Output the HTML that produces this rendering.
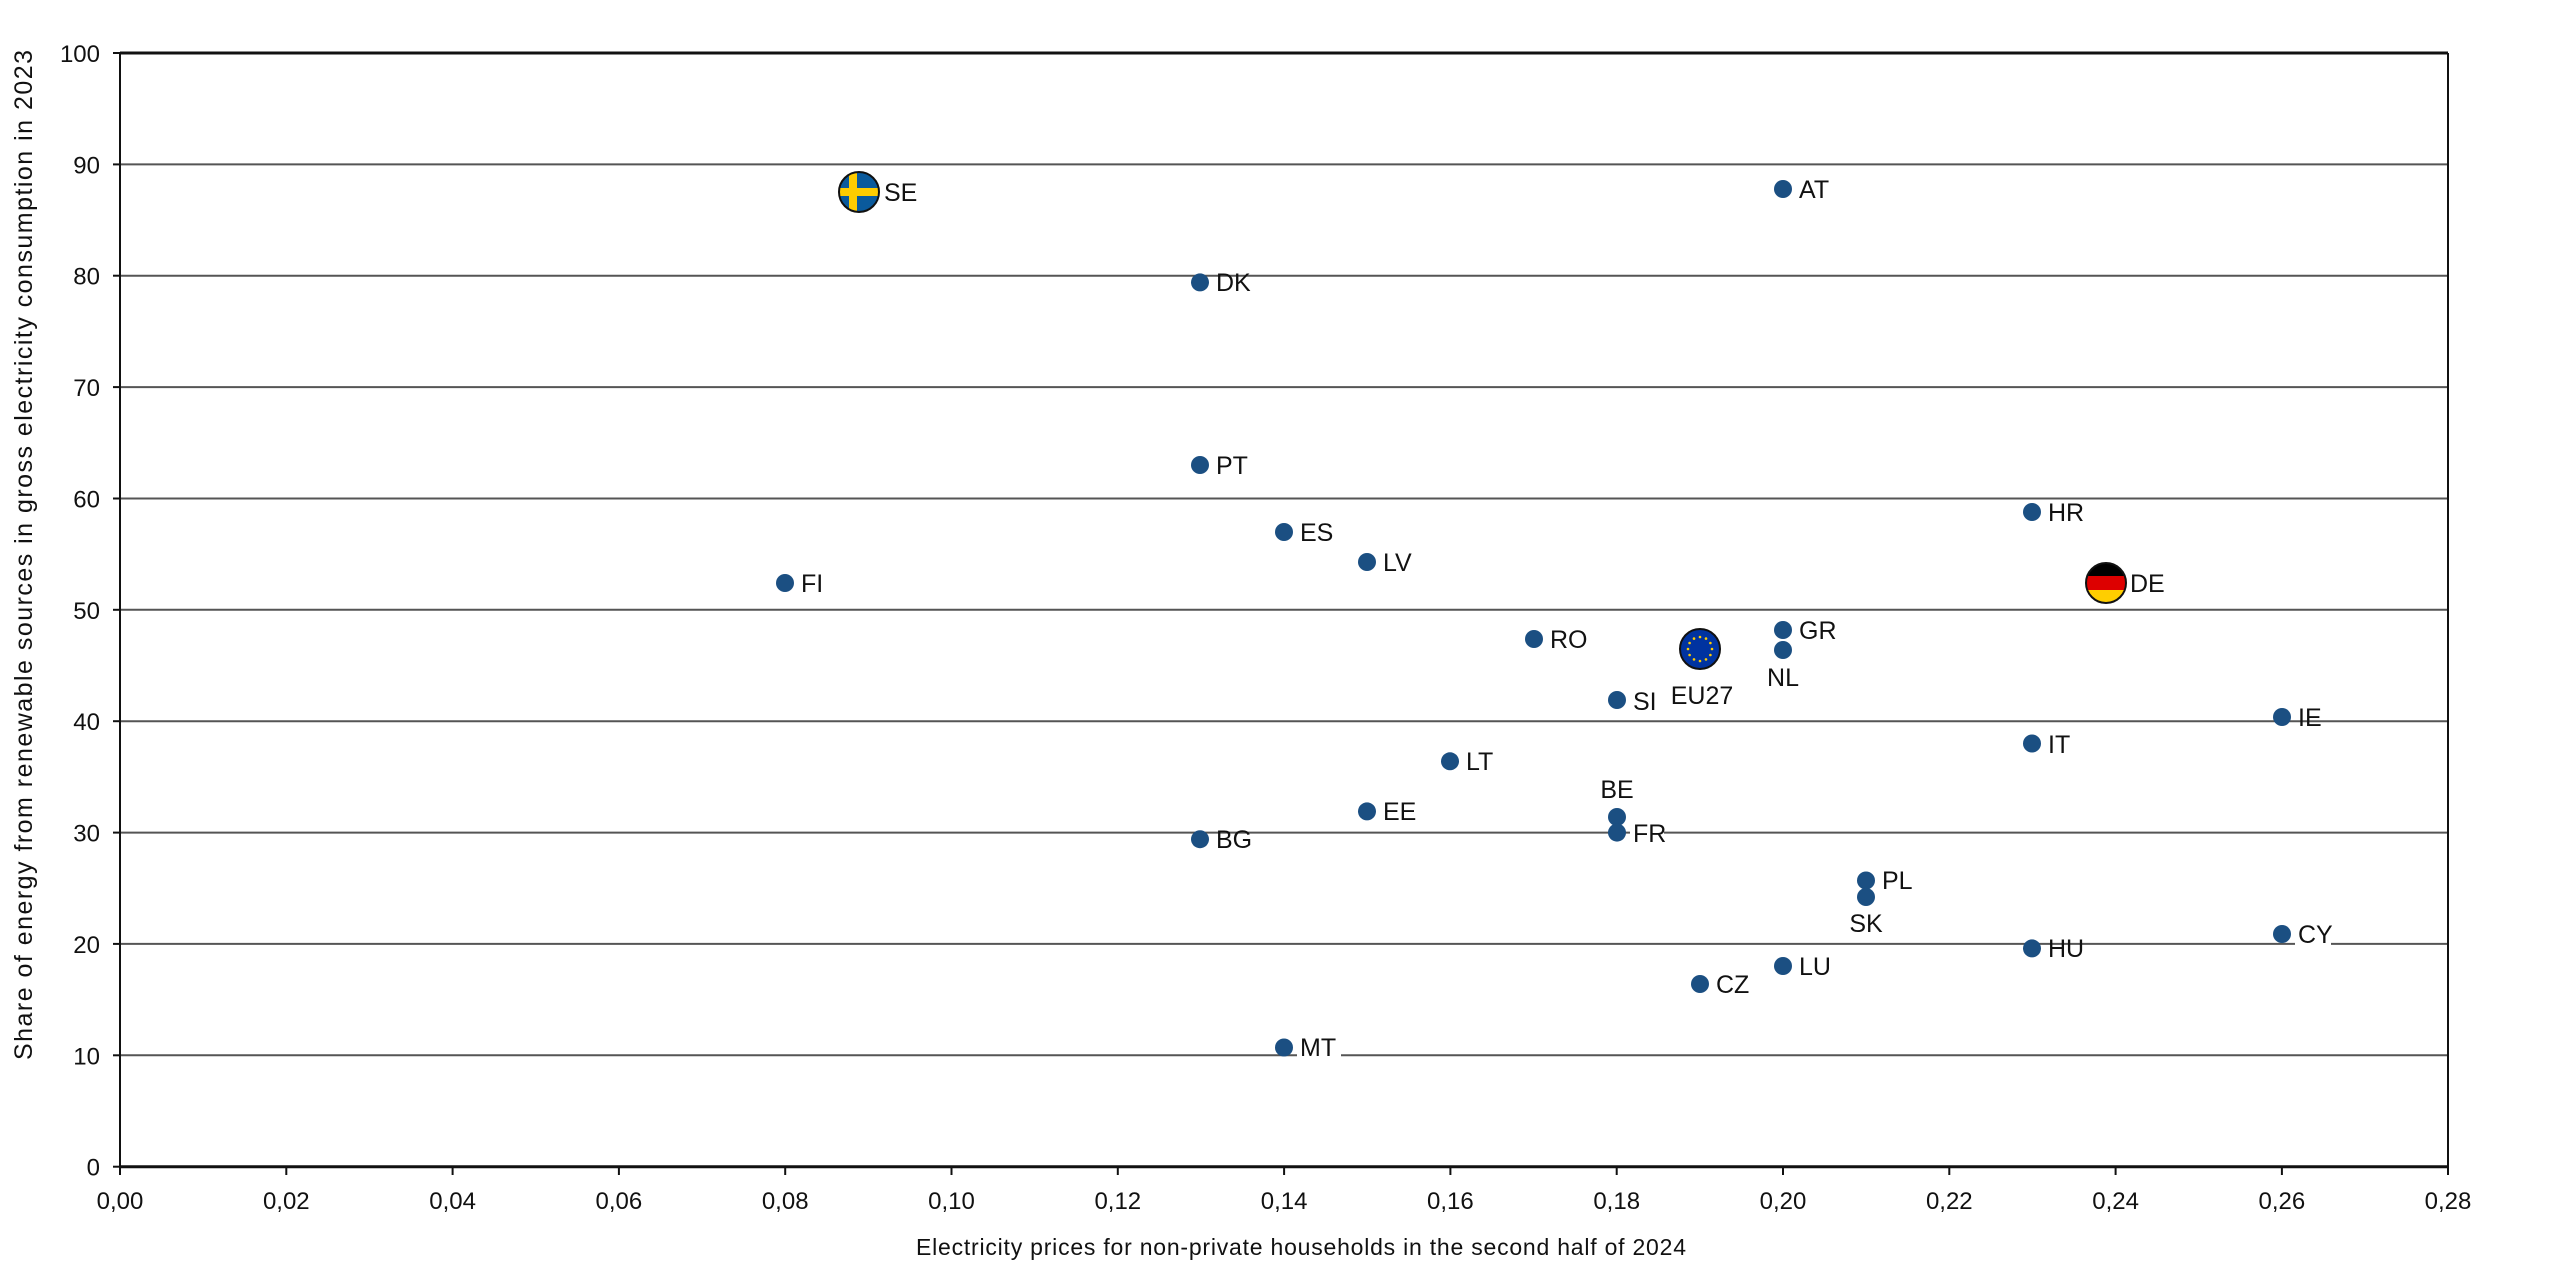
<!DOCTYPE html>
<html><head><meta charset="utf-8"><style>html,body{margin:0;padding:0;background:#fff;}svg{display:block}</style></head>
<body>
<svg width="2550" height="1264" xmlns="http://www.w3.org/2000/svg" font-family="Liberation Sans, Arial, sans-serif">
<defs>
<clipPath id="c1"><circle cx="0" cy="0" r="20"/></clipPath>
</defs>
<g stroke="#555" stroke-width="2">
<line x1="120" x2="2448" y1="1055.3" y2="1055.3"/>
<line x1="120" x2="2448" y1="943.9" y2="943.9"/>
<line x1="120" x2="2448" y1="832.6" y2="832.6"/>
<line x1="120" x2="2448" y1="721.2" y2="721.2"/>
<line x1="120" x2="2448" y1="609.8" y2="609.8"/>
<line x1="120" x2="2448" y1="498.5" y2="498.5"/>
<line x1="120" x2="2448" y1="387.1" y2="387.1"/>
<line x1="120" x2="2448" y1="275.7" y2="275.7"/>
<line x1="120" x2="2448" y1="164.4" y2="164.4"/>
</g>
<g stroke="#111" stroke-width="2">
<line x1="120" y1="53" x2="2448" y2="53" stroke-width="3"/>
<line x1="120" y1="1166.7" x2="2448" y2="1166.7" stroke-width="3"/>
<line x1="120" y1="53" x2="120" y2="1172"/>
<line x1="2448" y1="53" x2="2448" y2="1172"/>
<line x1="113" x2="120" y1="53" y2="53"/><line x1="113" x2="120" y1="164.4" y2="164.4"/><line x1="113" x2="120" y1="275.7" y2="275.7"/><line x1="113" x2="120" y1="387.1" y2="387.1"/><line x1="113" x2="120" y1="498.5" y2="498.5"/><line x1="113" x2="120" y1="609.8" y2="609.8"/><line x1="113" x2="120" y1="721.2" y2="721.2"/><line x1="113" x2="120" y1="832.6" y2="832.6"/><line x1="113" x2="120" y1="943.9" y2="943.9"/><line x1="113" x2="120" y1="1055.3" y2="1055.3"/><line x1="113" x2="120" y1="1166.7" y2="1166.7"/>
<line x1="120" x2="120" y1="1166" y2="1175"/><line x1="286.3" x2="286.3" y1="1166" y2="1175"/><line x1="452.6" x2="452.6" y1="1166" y2="1175"/><line x1="618.9" x2="618.9" y1="1166" y2="1175"/><line x1="785.2" x2="785.2" y1="1166" y2="1175"/><line x1="951.5" x2="951.5" y1="1166" y2="1175"/><line x1="1117.8" x2="1117.8" y1="1166" y2="1175"/><line x1="1284.1" x2="1284.1" y1="1166" y2="1175"/><line x1="1450.4" x2="1450.4" y1="1166" y2="1175"/><line x1="1616.7" x2="1616.7" y1="1166" y2="1175"/><line x1="1783" x2="1783" y1="1166" y2="1175"/><line x1="1949.3" x2="1949.3" y1="1166" y2="1175"/><line x1="2115.6" x2="2115.6" y1="1166" y2="1175"/><line x1="2281.9" x2="2281.9" y1="1166" y2="1175"/><line x1="2448" x2="2448" y1="1166" y2="1175"/>
</g>
<g font-size="24" fill="#111" text-anchor="end">
<text x="100" y="62">100</text><text x="100" y="173.4">90</text><text x="100" y="284.7">80</text><text x="100" y="396.1">70</text><text x="100" y="507.5">60</text><text x="100" y="618.8">50</text><text x="100" y="730.2">40</text><text x="100" y="841.6">30</text><text x="100" y="952.9">20</text><text x="100" y="1064.3">10</text><text x="100" y="1175.7">0</text>
</g>
<g font-size="24" fill="#111" text-anchor="middle">
<text x="120" y="1209">0,00</text><text x="286.3" y="1209">0,02</text><text x="452.6" y="1209">0,04</text><text x="618.9" y="1209">0,06</text><text x="785.2" y="1209">0,08</text><text x="951.5" y="1209">0,10</text><text x="1117.8" y="1209">0,12</text><text x="1284.1" y="1209">0,14</text><text x="1450.4" y="1209">0,16</text><text x="1616.7" y="1209">0,18</text><text x="1783" y="1209">0,20</text><text x="1949.3" y="1209">0,22</text><text x="2115.6" y="1209">0,24</text><text x="2281.9" y="1209">0,26</text><text x="2448" y="1209">0,28</text>
<text x="1301" y="1255" textLength="770" font-size="23">Electricity prices for non-private households in the second half of 2024</text>
<text transform="translate(32,555) rotate(-90)" textLength="1010" font-size="25">Share of energy from renewable sources in gross electricity consumption in 2023</text>
</g>
<g font-size="25" fill="#111">
<g fill="#1b4f82">
<circle cx="1783" cy="189" r="9"/><circle cx="1200" cy="282.4" r="9"/><circle cx="1200" cy="465" r="9"/><circle cx="2032" cy="512" r="9"/><circle cx="1284" cy="532" r="9"/><circle cx="1367" cy="562" r="9"/><circle cx="785" cy="583" r="9"/><circle cx="1534" cy="639" r="9"/><circle cx="1783" cy="630" r="9"/><circle cx="1783" cy="650" r="9"/><circle cx="1617" cy="700" r="9"/><circle cx="2282" cy="717" r="9"/><circle cx="2032" cy="743.5" r="9"/><circle cx="1450" cy="761.3" r="9"/><circle cx="1617" cy="817" r="9"/><circle cx="1367" cy="811.4" r="9"/><circle cx="1617" cy="832.6" r="9"/><circle cx="1200" cy="839.2" r="9"/><circle cx="1866" cy="880.5" r="9"/><circle cx="1866" cy="897" r="9"/><circle cx="2282" cy="934" r="9"/><circle cx="2032" cy="948.4" r="9"/><circle cx="1783" cy="966" r="9"/><circle cx="1700" cy="984" r="9"/><circle cx="1284" cy="1047.5" r="9"/>
</g>
<g>
<text x="1799" y="198">AT</text><text x="1216" y="291">DK</text><text x="1216" y="474">PT</text><text x="2048" y="521">HR</text><text x="1300" y="541">ES</text><text x="1383" y="571">LV</text><text x="801" y="592">FI</text><text x="1550" y="648">RO</text><text x="1799" y="639">GR</text>
<text x="1783" y="686" text-anchor="middle">NL</text><text x="1633" y="710">SI</text><text x="1702" y="704" text-anchor="middle">EU27</text>
<text x="2298" y="726">IE</text><text x="2048" y="753">IT</text><text x="1466" y="770">LT</text><text x="1617" y="798" text-anchor="middle">BE</text><text x="1383" y="820">EE</text>
<rect x="1630" y="822" width="34" height="22" fill="#fff"/><text x="1633" y="842">FR</text>
<text x="1216" y="848">BG</text><text x="1882" y="889">PL</text><text x="1866" y="932" text-anchor="middle">SK</text>
<rect x="2295" y="924" width="36" height="22" fill="#fff"/><text x="2298" y="943">CY</text>
<text x="2048" y="957">HU</text><text x="1799" y="975">LU</text><text x="1716" y="993">CZ</text>
<rect x="1297" y="1045" width="44" height="22" fill="#fff"/><text x="1300" y="1056">MT</text>
<text x="884" y="201">SE</text><text x="2130" y="592">DE</text>
</g>
</g>
<g transform="translate(859,192)">
<g clip-path="url(#c1)"><rect x="-21" y="-21" width="42" height="42" fill="#0a5a9c"/><rect x="-10" y="-21" width="8" height="42" fill="#fecc00"/><rect x="-21" y="-4" width="42" height="8" fill="#fecc00"/></g>
<circle r="20" fill="none" stroke="#111" stroke-width="2"/>
</g>
<g transform="translate(2106,583)">
<g clip-path="url(#c1)"><rect x="-21" y="-21" width="42" height="14" fill="#000"/><rect x="-21" y="-7" width="42" height="14" fill="#dd0000"/><rect x="-21" y="7" width="42" height="14" fill="#ffce00"/></g>
<circle r="20" fill="none" stroke="#111" stroke-width="2"/>
</g>
<g transform="translate(1700,649)">
<circle r="20" fill="#0033a0" stroke="#111" stroke-width="2"/>
<g fill="#ffcc00">
<circle cx="0" cy="-12" r="1.3"/><circle cx="6" cy="-10.4" r="1.3"/><circle cx="10.4" cy="-6" r="1.3"/><circle cx="12" cy="0" r="1.3"/><circle cx="10.4" cy="6" r="1.3"/><circle cx="6" cy="10.4" r="1.3"/><circle cx="0" cy="12" r="1.3"/><circle cx="-6" cy="10.4" r="1.3"/><circle cx="-10.4" cy="6" r="1.3"/><circle cx="-12" cy="0" r="1.3"/><circle cx="-10.4" cy="-6" r="1.3"/><circle cx="-6" cy="-10.4" r="1.3"/>
</g>
</g>
</svg>
</body></html>
